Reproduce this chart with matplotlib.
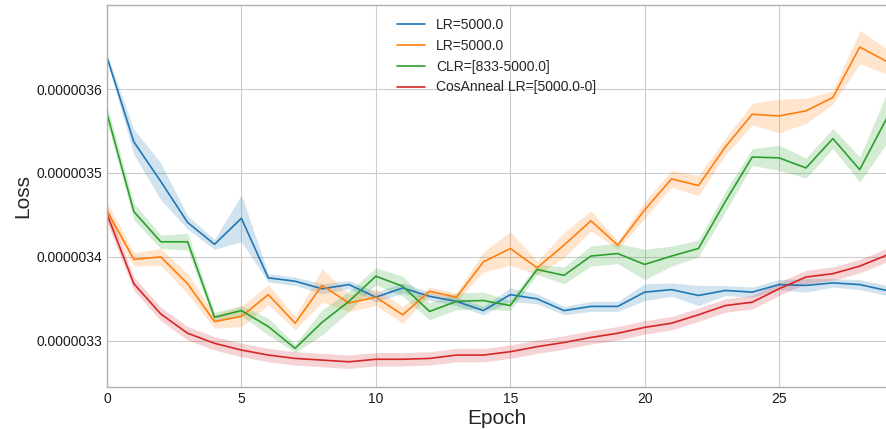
import numpy as np
import matplotlib
matplotlib.use("Agg")
import matplotlib.pyplot as plt
from matplotlib.ticker import FormatStrFormatter

epochs = list(range(30))
labels = ["LR=5000.0", "LR=5000.0", "CLR=[833-5000.0]", "CosAnneal LR=[5000.0-0]"]

# mean loss (units of 1e-6)
lr_a = [3.638, 3.537, 3.490, 3.441, 3.415, 3.446, 3.375, 3.371, 3.362, 3.367,
        3.352, 3.363, 3.353, 3.347, 3.336, 3.355, 3.350, 3.336, 3.341, 3.341,
        3.358, 3.361, 3.354, 3.360, 3.358, 3.367, 3.366, 3.369, 3.367, 3.360]
lr_b = [3.455, 3.397, 3.400, 3.368, 3.323, 3.329, 3.355, 3.321, 3.366, 3.345,
        3.352, 3.331, 3.359, 3.352, 3.394, 3.410, 3.387, 3.414, 3.443, 3.414,
        3.456, 3.493, 3.485, 3.531, 3.570, 3.568, 3.574, 3.590, 3.650, 3.633]
clr = [3.571, 3.454, 3.418, 3.418, 3.328, 3.336, 3.317, 3.291, 3.322, 3.347,
       3.377, 3.365, 3.335, 3.347, 3.348, 3.342, 3.385, 3.378, 3.401, 3.404,
       3.391, 3.401, 3.410, 3.466, 3.519, 3.518, 3.506, 3.541, 3.504, 3.565]
cos = [3.451, 3.368, 3.332, 3.309, 3.297, 3.289, 3.283, 3.279, 3.277, 3.275,
       3.278, 3.278, 3.279, 3.283, 3.283, 3.287, 3.293, 3.298, 3.304, 3.309,
       3.316, 3.321, 3.331, 3.342, 3.346, 3.362, 3.376, 3.380, 3.389, 3.402]

# half width of the confidence band (units of 1e-6)
lr_a_err = [0.004, 0.015, 0.022, 0.008, 0.006, 0.028, 0.005, 0.005, 0.006, 0.005,
            0.006, 0.006, 0.005, 0.005, 0.005, 0.008, 0.006, 0.005, 0.006, 0.006,
            0.01, 0.008, 0.012, 0.006, 0.006, 0.006, 0.008, 0.005, 0.006, 0.006]
lr_b_err = [0.01, 0.008, 0.01, 0.012, 0.008, 0.012, 0.012, 0.008, 0.02, 0.01,
            0.01, 0.01, 0.005, 0.005, 0.012, 0.02, 0.008, 0.015, 0.012, 0.005,
            0.01, 0.01, 0.012, 0.01, 0.013, 0.02, 0.015, 0.008, 0.02, 0.015]
clr_err = [0.01, 0.01, 0.008, 0.01, 0.006, 0.006, 0.01, 0.005, 0.015, 0.012,
           0.01, 0.012, 0.01, 0.01, 0.01, 0.006, 0.006, 0.01, 0.012, 0.012,
           0.018, 0.012, 0.01, 0.012, 0.01, 0.015, 0.012, 0.012, 0.015, 0.03]
cos_err = [0.01, 0.008, 0.008, 0.008, 0.008, 0.008, 0.008, 0.008, 0.008, 0.008,
           0.008, 0.008, 0.008, 0.008, 0.008, 0.008, 0.008, 0.008, 0.008, 0.008,
           0.008, 0.008, 0.008, 0.008, 0.008, 0.008, 0.008, 0.008, 0.008, 0.008]

plt.style.use("seaborn-v0_8-whitegrid")
plt.rcParams["font.family"] = ["Liberation Sans", "DejaVu Sans"]

fig = plt.figure(figsize=(8.87, 4.29), dpi=100)
ax = fig.add_axes([0.1206, 0.098, 0.879, 0.890])

series = [(lr_a, lr_a_err), (lr_b, lr_b_err), (clr, clr_err), (cos, cos_err)]
colors = ["tab:blue", "tab:orange", "tab:green", "tab:red"]
x = np.array(epochs)
for (m, e), c, lab in zip(series, colors, labels):
    m = np.array(m) * 1e-6
    e = np.array(e) * 1e-6
    ax.fill_between(x, m - e, m + e, color=c, alpha=0.2, linewidth=0)
    ax.plot(x, m, color=c, linewidth=1.2, label=lab)

ax.set_xlim(0, 29)
ax.set_ylim(3.245e-6, 3.70e-6)
ax.set_xticks([0, 5, 10, 15, 20, 25])
ax.set_yticks([3.3e-6, 3.4e-6, 3.5e-6, 3.6e-6])
ax.yaxis.set_major_formatter(FormatStrFormatter("%.7f"))
ax.tick_params(labelsize=10, labelcolor="#1a1a1a")
for s in ax.spines.values():
    s.set_visible(True)
    s.set_color("#b0b0b0")
ax.set_xlabel("Epoch", fontsize=15, labelpad=2)
ax.set_ylabel("Loss", fontsize=15, labelpad=3)
ax.legend(loc="upper center", fontsize=10, frameon=False)

fig.savefig("out.png", dpi=100)
